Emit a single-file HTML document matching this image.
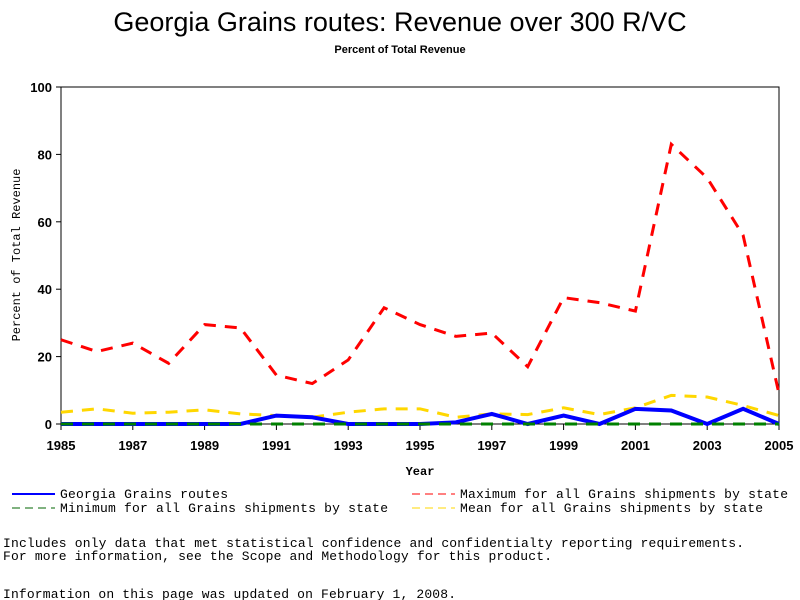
<!DOCTYPE html>
<html><head><meta charset="utf-8"><style>
body{margin:0;background:#fff;}
svg{display:block;font-family:"Liberation Sans",sans-serif;}
.m{font-family:"Liberation Mono",monospace;}
</style></head><body>
<svg id="chart" width="800" height="600">
<text x="400" y="31" text-anchor="middle" font-size="27">Georgia Grains routes: Revenue over 300 R/VC</text>
<text x="400" y="53" text-anchor="middle" font-size="11" font-weight="bold">Percent of Total Revenue</text>
<rect x="61" y="87" width="718" height="337" fill="none" stroke="#000"/>
<g id="yticks"></g><g id="xticks"></g><g id="series"></g>
<text x="20" y="255" transform="rotate(-90 20 255)" text-anchor="middle" font-size="12" class="m">Percent of Total Revenue</text>
<text x="420" y="475" text-anchor="middle" font-size="12" font-weight="bold" class="m">Year</text>
<g class="m" font-size="13">
<line x1="12" y1="494" x2="55" y2="494" stroke="#00f" stroke-width="2"/>
<text x="60" y="498" textLength="168">Georgia Grains routes</text>
<line x1="12" y1="508" x2="55" y2="508" stroke="#006400" stroke-width="1" stroke-dasharray="8,5"/>
<text x="60" y="512" textLength="328">Minimum for all Grains shipments by state</text>
<line x1="412" y1="494" x2="455" y2="494" stroke="#f00" stroke-width="1" stroke-dasharray="8,5"/>
<text x="460" y="498" textLength="328">Maximum for all Grains shipments by state</text>
<line x1="412" y1="508" x2="455" y2="508" stroke="#ffd700" stroke-width="1" stroke-dasharray="8,5"/>
<text x="460" y="512" textLength="303">Mean for all Grains shipments by state</text>
</g>
<g class="m" font-size="13">
<text x="3" y="547" textLength="741">Includes only data that met statistical confidence and confidentialty reporting requirements.</text>
<text x="3" y="560" textLength="549">For more information, see the Scope and Methodology for this product.</text>
<text x="3" y="598" textLength="453">Information on this page was updated on February 1, 2008.</text>
</g>
</svg>
<script>
const years=[1985,1986,1987,1988,1989,1990,1991,1992,1993,1994,1995,1996,1997,1998,1999,2000,2001,2002,2003,2004,2005];
const maxVals=[25,21.5,24,18,29.5,28.5,14.5,12,19,34.5,29.5,26,27,17,37.5,36,33.5,83,73,56,9];
const meanVals=[3.5,4.5,3.2,3.5,4.2,3,2.5,2,3.5,4.5,4.5,2,3,2.8,4.8,2.8,4.8,8.5,8,5.5,2.5];
const gaVals=[0,0,0,0,0,0,2.5,2,0,0,0,0.5,3,0,2.5,0,4.5,4,0,4.5,0];
const minVals=[0,0,0,0,0,0,0,0,0,0,0,0,0,0,0,0,0,0,0,0,0];
const yTicks=[0,20,40,60,80,100];
const xTicks=[1985,1987,1989,1991,1993,1995,1997,1999,2001,2003,2005];
const NS="http://www.w3.org/2000/svg";
function xs(v){return 61+(v-1985)*(718/20);}
function ys(v){return 424-v*3.37;}
function mk(t,a,p){const e=document.createElementNS(NS,t);for(const k in a)e.setAttribute(k,a[k]);p.appendChild(e);return e;}
const yg=document.getElementById('yticks');
yTicks.forEach(v=>{
 const l=mk('line',{x1:56,x2:61,y1:ys(v),y2:ys(v),stroke:'#000'},yg);
 
 
 const t=mk('text',{x:52,y:ys(v)+5,'text-anchor':'end','font-size':13,'font-weight':'bold'},yg);
 t.textContent=v;
 
 
});
const xg=document.getElementById('xticks');
xTicks.forEach(v=>{
 const l=mk('line',{x1:xs(v),x2:xs(v),y1:424,y2:430,stroke:'#000'},xg);
 
 
 const t=mk('text',{x:xs(v),y:450,'text-anchor':'middle','font-size':13,'font-weight':'bold'},xg);
 t.textContent=v;
 
 
});
const sg=document.getElementById('series');
function line(vals,color,w,dash,name){
 const p=mk('polyline',{points:vals.map((v,i)=>xs(years[i])+','+ys(v)).join(' '),fill:'none',stroke:color,'stroke-width':w},sg);
 if(dash)p.setAttribute('stroke-dasharray',dash);
 
 
}
line(maxVals,'#f00',3,'12,9','series-maximum');
line(meanVals,'#ffd700',3,'12,9','series-mean');
line(gaVals,'#00f',4,null,'series-georgia');
line(minVals,'#008000',3,'12,9','series-minimum');
</script>
</body></html>
